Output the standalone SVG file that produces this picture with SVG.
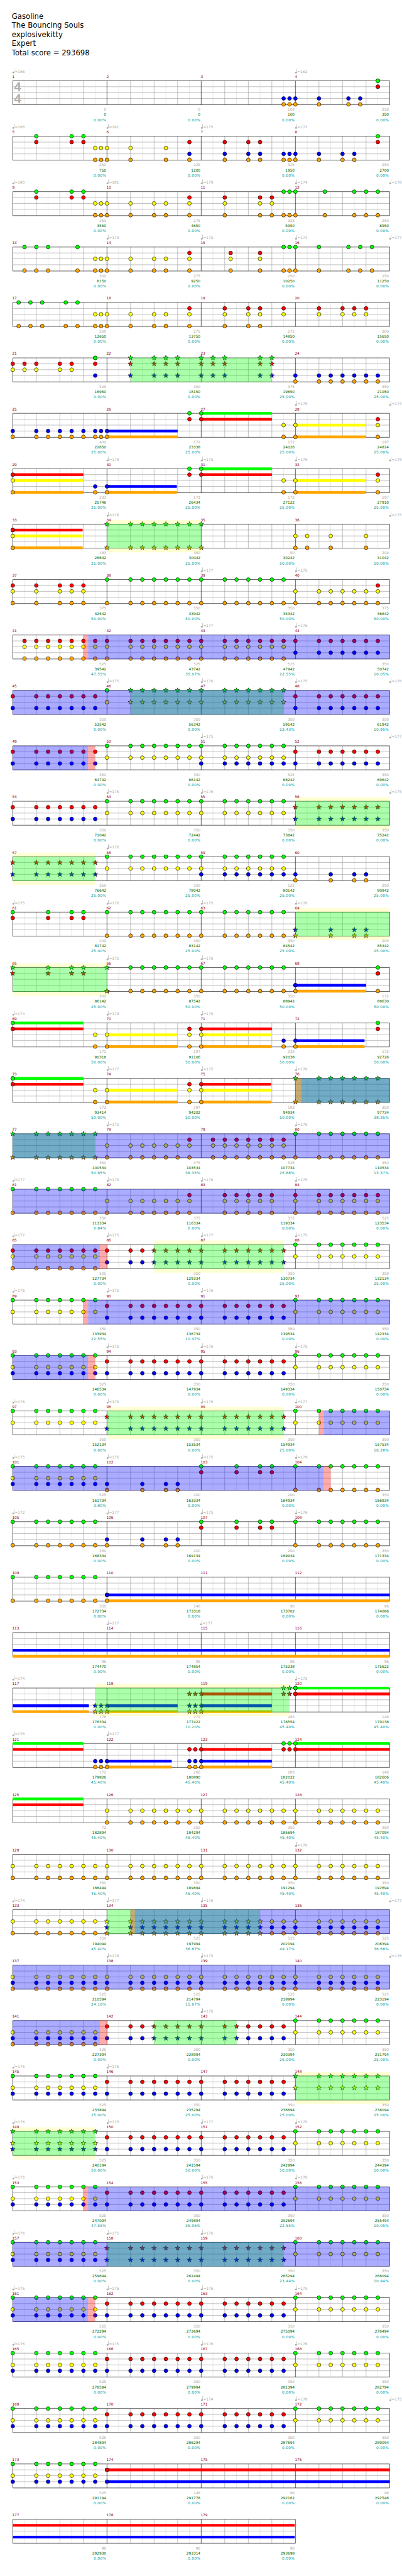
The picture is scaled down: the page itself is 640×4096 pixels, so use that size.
<svg xmlns="http://www.w3.org/2000/svg" width="640" height="4096" viewBox="0 0 640 4096">
<style>
text{font-family:"DejaVu Sans",Verdana,sans-serif;font-size:9.33px}
path{fill:none}
.k{stroke:#000;stroke-width:1}
.G{marker:url(#G)}.R{marker:url(#R)}.Y{marker:url(#Y)}.B{marker:url(#B)}.O{marker:url(#O)}
.Sg{marker:url(#sg)}.Sr{marker:url(#sr)}.Sy{marker:url(#sy)}.Sb{marker:url(#sb)}.So{marker:url(#so)}
.Lg,.Lr,.Ly,.Lb,.Lo{stroke-width:7}
.Lg{stroke:#0f0}.Lr{stroke:#f00}.Ly{stroke:#ff0}.Lb{stroke:#00f}.Lo{stroke:#ffa500}
.Og,.Ob,.Or{stroke-width:62;stroke-opacity:.33}
.Og{stroke:#0f0}.Ob{stroke:#00f}.Or{stroke:#f00}
.Yw{stroke:#ff0;stroke-width:10;stroke-opacity:.17}
.n text{fill:#900}.n{transform:translate(-1.5px,-7.5px)}
.m text{fill:#aaa}.m{transform:translateY(-20.5px)}.m path{marker:url(#q)}
.s,.t,.p{text-anchor:end}
.s text{fill:#aaa}.s{transform:translateY(76.5px)}
.t text{fill:#060}.t{transform:translateY(89.5px)}
.p text{fill:#099;letter-spacing:.5px}.p{transform:translateY(102.5px)}
.h text{font-size:18.67px;fill:#000}
.ts{font-family:"Liberation Sans",Arial,sans-serif;font-weight:bold;font-size:32px;fill:#b0b0b0}
</style>
<defs>
<polygon id="five" points="0,-6.5 1.53,-2.1 6.18,-2 2.47,.8 3.82,5.26 0,2.6 -3.82,5.26 -2.47,.8 -6.18,-2 -1.53,-2.1"/>
<marker id="G" markerUnits="userSpaceOnUse" viewBox="-8 -8 16 16" markerWidth="16" markerHeight="16"><circle class="k" r="4.8" fill="#0f0"/></marker>
<marker id="R" markerUnits="userSpaceOnUse" viewBox="-8 -8 16 16" markerWidth="16" markerHeight="16"><circle class="k" r="4.8" fill="#f00"/></marker>
<marker id="Y" markerUnits="userSpaceOnUse" viewBox="-8 -8 16 16" markerWidth="16" markerHeight="16"><circle class="k" r="4.8" fill="#ff0"/></marker>
<marker id="B" markerUnits="userSpaceOnUse" viewBox="-8 -8 16 16" markerWidth="16" markerHeight="16"><circle class="k" r="4.8" fill="#00f"/></marker>
<marker id="O" markerUnits="userSpaceOnUse" viewBox="-8 -8 16 16" markerWidth="16" markerHeight="16"><circle class="k" r="4.8" fill="#ffa500"/></marker>
<marker id="sg" markerUnits="userSpaceOnUse" viewBox="-8 -8 16 16" markerWidth="16" markerHeight="16"><use href="#five" class="k" fill="#0f0"/></marker>
<marker id="sr" markerUnits="userSpaceOnUse" viewBox="-8 -8 16 16" markerWidth="16" markerHeight="16"><use href="#five" class="k" fill="#f00"/></marker>
<marker id="sy" markerUnits="userSpaceOnUse" viewBox="-8 -8 16 16" markerWidth="16" markerHeight="16"><use href="#five" class="k" fill="#ff0"/></marker>
<marker id="sb" markerUnits="userSpaceOnUse" viewBox="-8 -8 16 16" markerWidth="16" markerHeight="16"><use href="#five" class="k" fill="#00f"/></marker>
<marker id="so" markerUnits="userSpaceOnUse" viewBox="-8 -8 16 16" markerWidth="16" markerHeight="16"><use href="#five" class="k" fill="#ffa500"/></marker>
<marker id="q" markerUnits="userSpaceOnUse" viewBox="-4 -14 12 18" markerWidth="12" markerHeight="18"><ellipse cx="1.5" cy="-.5" rx="2.5" ry="2.2" fill="#aaa"/><path d="M3.6 -1V-10.5" stroke="#aaa"/></marker>
<g id="st">
<path stroke="#ddd" d="M30 0V61M90 0V61M150 0V61M210 0V61M270 0V61M330 0V61M390 0V61M450 0V61M510 0V61M570 0V61M630 0V61M690 0V61M750 0V61M810 0V61M870 0V61M930 0V61"/>
<path stroke="#999" d="M60 0V61M120 0V61M180 0V61M300 0V61M360 0V61M420 0V61M540 0V61M600 0V61M660 0V61M780 0V61M840 0V61M900 0V61M0 15H960M0 30H960M0 45H960"/>
<path stroke="#000" d="M0 0H960V61H0ZM240 0V61M480 0V61M720 0V61"/>
</g>
<g id="st3">
<path stroke="#ddd" d="M30 0V61M90 0V61M150 0V61M210 0V61M270 0V61M330 0V61M390 0V61M450 0V61M510 0V61M570 0V61M630 0V61M690 0V61"/>
<path stroke="#999" d="M60 0V61M120 0V61M180 0V61M300 0V61M360 0V61M420 0V61M540 0V61M600 0V61M660 0V61M0 15H720M0 30H720M0 45H720"/>
<path stroke="#000" d="M0 0H720V61H0ZM240 0V61M480 0V61"/>
</g>
<g id="v">
<path class="G" d="M0 0H60 90 120 150 180 210 720 780 810 840 870 900 930"/>
<path class="R" d="M240 15H300 330 360 390 420 450 480 540 570 600 630 660 690"/>
<path class="Y" d="M0 30H60 90 120 150 180 210 720 780 810 840 870 900 930"/>
<path class="B" d="M0 45H60 90 120 150 180 210 240 300 330 360 390 420 450 480 540 570 600 630 660 690"/>
</g>
</defs>
<rect width="640" height="4096" fill="#fff"/>
<g transform="scale(.625)">
<g id="title" class="h"><text x="30" y="48">Gasoline</text><text x="30" y="71">The Bouncing Souls</text><text x="30" y="94">explosivekitty</text><text x="30" y="117">Expert</text><text x="30" y="140">Total score = 293698</text></g>

<g id="s0" transform="translate(32.5,205.5)"><use href="#st"/><text class="ts" x="3.5" y="26.5">4</text><text class="ts" x="3.5" y="57">4</text>
<path class="G" d="M930 0h0"/><path class="R" d="M930 15h0"/><path class="B" d="M690 45H705 720 780 855 885"/><path class="O" d="M690 60H705 720 780 855 885"/>
<g class="m"><path d="M0 0H720"/><text x="5">=166</text><text x="725">=162</text></g>
<g class="n"><text>1</text><text x="240">2</text><text x="480">3</text><text x="720">4</text></g>
<g class="s"><text x="238">0</text><text x="478">0</text><text x="718">100</text><text x="958">250</text></g>
<g class="t"><text x="238">0</text><text x="478">0</text><text x="718">100</text><text x="958">350</text></g>
<g class="p"><text x="238">0.00%</text><text x="478">0.00%</text><text x="718">0.00%</text><text x="958">0.00%</text></g></g>

<g id="s1" transform="translate(32.5,346.5)"><use href="#st"/>
<path class="G" d="M60 0H150 180 930"/><path class="R" d="M60 15H150 180 450 540 600 630 930"/><path class="Y" d="M210 30H225 240 300 390"/><path class="B" d="M450 45H540 600 630 690 705 720 780 840 870"/><path class="O" d="M210 60H225 240 300 390 450 540 600 630 690 705 720 780 840 870"/>
<g class="m"><path d="M0 0H240 480 720"/><text x="5">=166</text><text x="245">=181</text><text x="485">=175</text><text x="725">=172</text></g>
<g class="n"><text>5</text><text x="240">6</text><text x="480">7</text><text x="720">8</text></g>
<g class="s"><text x="238">250</text><text x="478">225</text><text x="718">325</text><text x="958">250</text></g>
<g class="t"><text x="238">750</text><text x="478">1200</text><text x="718">1950</text><text x="958">2700</text></g>
<g class="p"><text x="238">0.00%</text><text x="478">0.00%</text><text x="718">0.00%</text><text x="958">0.00%</text></g></g>

<g id="s2" transform="translate(32.5,487.5)"><use href="#st"/>
<path class="G" d="M60 0H150 180 690 705 720 795 870 900 930"/><path class="R" d="M60 15H150 180 450 540 630 660"/><path class="Y" d="M210 30H225 240 300 360 390 450 540 630 660"/><path class="O" d="M210 60H225 240 300 360 390 450 540 630 660 690 705 720 795 870 900 930"/>
<g class="m"><path d="M0 0H240 480 720 960"/><text x="5">=180</text><text x="245">=181</text><text x="485">=179</text><text x="725">=174</text><text x="965">=178</text></g>
<g class="n"><text>9</text><text x="240">10</text><text x="480">11</text><text x="720">12</text></g>
<g class="s"><text x="238">250</text><text x="478">275</text><text x="718">325</text><text x="958">250</text></g>
<g class="t"><text x="238">3550</text><text x="478">4650</text><text x="718">5950</text><text x="958">6950</text></g>
<g class="p"><text x="238">0.00%</text><text x="478">0.00%</text><text x="718">0.00%</text><text x="958">0.00%</text></g></g>

<g id="s3" transform="translate(32.5,628.5)"><use href="#st"/>
<path class="G" d="M30 0H60 90 165 690 705 720 780 855 885 915"/><path class="R" d="M450 15H555 630"/><path class="Y" d="M210 30H225 240 300 360 390 450 555 630"/><path class="O" d="M30 60H60 90 165 210 225 240 300 360 390 450 555 630 690 705 720 780 855 885 915"/>
<g class="m"><path d="M240 0H480 720 960"/><text x="245">=173</text><text x="485">=170</text><text x="725">=174</text><text x="965">=177</text></g>
<g class="n"><text>13</text><text x="240">14</text><text x="480">15</text><text x="720">16</text></g>
<g class="s"><text x="238">300</text><text x="478">275</text><text x="718">250</text><text x="958">250</text></g>
<g class="t"><text x="238">8150</text><text x="478">9250</text><text x="718">10250</text><text x="958">11250</text></g>
<g class="p"><text x="238">0.00%</text><text x="478">0.00%</text><text x="718">0.00%</text><text x="958">0.00%</text></g></g>

<g id="s4" transform="translate(32.5,769.5)"><use href="#st"/>
<path class="G" d="M15 0H45 75 135 165"/><path class="R" d="M450 15H540 600 630 690 780 840 870 900"/><path class="Y" d="M210 30H225 240 300 360 390 450 540 600 630 690 780 840 870 900"/><path class="O" d="M15 60H45 75 135 165 210 225 240 300 360 390 450 540 600 630"/>
<g class="n"><text>17</text><text x="240">18</text><text x="480">19</text><text x="720">20</text></g>
<g class="s"><text x="238">350</text><text x="478">275</text><text x="718">275</text><text x="958">200</text></g>
<g class="t"><text x="238">12650</text><text x="478">13750</text><text x="718">14850</text><text x="958">15650</text></g>
<g class="p"><text x="238">0.00%</text><text x="478">0.00%</text><text x="718">0.00%</text><text x="958">0.00%</text></g></g>

<g id="s5" transform="translate(32.5,910.5)"><use href="#st"/>
<path class="G" d="M210 0h0"/><path class="Sg" d="M300 0H360 390 420 480 510 540 630 660"/><path class="R" d="M0 15H30 60 120 150 210"/><path class="Sr" d="M300 15H360 390 420 480 510 540 630 660"/><path class="Y" d="M0 30H30 60 120 150"/><path class="B" d="M210 45H720 780 810 840 870 900 930"/><path class="Sb" d="M300 45H360 390 420 480 510 540 630 660"/><path class="O" d="M720 60H780 810 840 870 900 930"/>
<g class="n"><text>21</text><text x="240">22</text><text x="480">23</text><text x="720">24</text></g>
<g class="s"><text x="238">325</text><text x="478">300</text><text x="718">375</text><text x="958">350</text></g>
<g class="t"><text x="238">16950</text><text x="478">18150</text><text x="718">19650</text><text x="958">21050</text></g>
<g class="p"><text x="238">0.00%</text><text x="478">0.00%</text><text x="718">25.00%</text><text x="958">25.00%</text></g>
<path class="Og" d="M300 30.5H660"/></g>

<g id="s6" transform="translate(32.5,1051.5)"><use href="#st"/>
<path class="Lg" d="M480 0H660"/><path class="Lr" d="M480 15H660"/><path class="Ly" d="M720 30H900"/><path class="Lb" d="M240 45H420"/><path class="Lo" d="M240 60H420M720 60H900"/>
<path class="G" d="M450 0H480"/><path class="R" d="M450 15H480 930"/><path class="Y" d="M690 30H720 930"/><path class="B" d="M0 45H60 90 120 150 180 210 225 240"/><path class="O" d="M0 60H60 90 120 150 180 210 225 240 690 720 930"/>
<g class="m"><path d="M720 0H960"/><text x="725">=175</text><text x="965">=174</text></g>
<g class="n"><text>25</text><text x="240">26</text><text x="480">27</text><text x="720">28</text></g>
<g class="s"><text x="238">400</text><text x="478">172</text><text x="718">172</text><text x="958">197</text></g>
<g class="t"><text x="238">22650</text><text x="478">23338</text><text x="718">24026</text><text x="958">24814</text></g>
<g class="p"><text x="238">25.00%</text><text x="478">25.00%</text><text x="718">25.00%</text><text x="958">25.00%</text></g></g>

<g id="s7" transform="translate(32.5,1192.5)"><use href="#st"/>
<path class="Lg" d="M480 0H660"/><path class="Lr" d="M0 15H180M480 15H660"/><path class="Ly" d="M0 30H180M720 30H900"/><path class="Lb" d="M240 45H418"/><path class="Lo" d="M0 60H180M240 60H418M720 60H900"/>
<path class="G" d="M450 0H480"/><path class="R" d="M0 15H450 480 930"/><path class="Y" d="M0 30H690 720 930"/><path class="B" d="M210 45H240"/><path class="O" d="M0 60H210 240 690 720 930"/>
<g class="m"><path d="M240 0H480 720 960"/><text x="245">=178</text><text x="485">=175</text><text x="725">=175</text><text x="965">=178</text></g>
<g class="n"><text>29</text><text x="240">30</text><text x="480">31</text><text x="720">32</text></g>
<g class="s"><text x="238">233</text><text x="478">172</text><text x="718">172</text><text x="958">197</text></g>
<g class="t"><text x="238">25746</text><text x="478">26434</text><text x="718">27122</text><text x="958">27910</text></g>
<g class="p"><text x="238">25.00%</text><text x="478">25.00%</text><text x="718">25.00%</text><text x="958">25.00%</text></g></g>

<g id="s8" transform="translate(32.5,1333.5)"><use href="#st"/>
<path class="Lr" d="M0 15H178"/><path class="Ly" d="M0 30H178"/><path class="Lo" d="M0 60H178"/>
<path class="Sg" d="M240 0H300 330 360 390 420 450 480"/><path class="R" d="M0 15h0"/><path class="Y" d="M0 30H720 750 810 900"/><path class="O" d="M0 60H720 750 810 900"/><path class="So" d="M240 60H300 330 360 390 420 450 480"/>
<g class="m"><path d="M240 0H960"/><text x="245">=176</text><text x="965">=175</text></g>
<g class="n"><text>33</text><text x="240">34</text><text x="480">35</text><text x="720">36</text></g>
<g class="s"><text x="238">183</text><text x="478">350</text><text x="718">50</text><text x="958">200</text></g>
<g class="t"><text x="238">28642</text><text x="478">30042</text><text x="718">30242</text><text x="958">31042</text></g>
<g class="p"><text x="238">25.00%</text><text x="478">25.00%</text><text x="718">50.00%</text><text x="958">50.00%</text></g>
<path class="Og" d="M240 30.5H480"/><path class="Yw" d="M240 -5.5H480M240 66.5H480"/></g>

<g id="s9" transform="translate(32.5,1474.5)"><use href="#st"/>
<path class="G" d="M240 0H300 330 360 390 420 450 480 540 570 600 630 660 690"/><path class="R" d="M0 15H60 120 150 180 930"/><path class="Y" d="M0 30H60 120 150 180 720 780 810 840 870 900 930"/><path class="O" d="M0 60H60 120 150 180 240 300 330 360 390 420 450 480 540 570 600 630 660 690 720 780 810 840 870 900 930"/>
<g class="m"><path d="M480 0H720"/><text x="485">=177</text><text x="725">=175</text></g>
<g class="n"><text>37</text><text x="240">38</text><text x="480">39</text><text x="720">40</text></g>
<g class="s"><text x="238">375</text><text x="478">350</text><text x="718">350</text><text x="958">375</text></g>
<g class="t"><text x="238">32542</text><text x="478">33942</text><text x="718">35342</text><text x="958">36842</text></g>
<g class="p"><text x="238">50.00%</text><text x="478">50.00%</text><text x="718">50.00%</text><text x="958">50.00%</text></g></g>

<g id="s10" transform="translate(32.5,1615.5)"><use href="#st"/>
<path class="R" d="M30 15H60 90 120 150 180 210 240 300 330 360 390 420 450 480 540 570 600 630 660 690 720 780 810 840 870 900 930"/><path class="Y" d="M30 30H60 90 120 150 180 210 240 300 330 360 390 420 450 480 540 570 600 630 660 690"/><path class="B" d="M720 45H780 810 840 870 900 930"/><path class="O" d="M30 60H60 90 120 150 180 210 240 300 330 360 390 420 450 480 540 570 600 630 660 690"/>
<g class="m"><path d="M480 0H720"/><text x="485">=177</text><text x="725">=176</text></g>
<g class="n"><text>41</text><text x="240">42</text><text x="480">43</text><text x="720">44</text></g>
<g class="s"><text x="238">525</text><text x="478">525</text><text x="718">525</text><text x="958">350</text></g>
<g class="t"><text x="238">39542</text><text x="478">43742</text><text x="718">47942</text><text x="958">50742</text></g>
<g class="p"><text x="238">47.55%</text><text x="478">35.07%</text><text x="718">22.55%</text><text x="958">10.05%</text></g>
<path class="Or" d="M180 30.5H192"/><path class="Ob" d="M192 30.5H960"/></g>

<g id="s11" transform="translate(32.5,1756.5)"><use href="#st"/>
<path class="G" d="M240 0h0"/><path class="Sg" d="M300 0H330 360 390 420 450 480 540 570 600 630 660 690"/><path class="R" d="M0 15H60 90 120 150 180 210 720 780 810 840 870 900 930"/><path class="Y" d="M240 30h0"/><path class="Sy" d="M300 30H330 360 390 420 450 480 540 570 600 630 660 690"/><path class="B" d="M0 45H60 90 120 150 180 210 720 780 810 840 870 900 930"/>
<g class="m"><path d="M240 0H480 720 960"/><text x="245">=175</text><text x="485">=176</text><text x="725">=175</text><text x="965">=176</text></g>
<g class="n"><text>45</text><text x="240">46</text><text x="480">47</text><text x="720">48</text></g>
<g class="s"><text x="238">350</text><text x="478">350</text><text x="718">350</text><text x="958">350</text></g>
<g class="t"><text x="238">53542</text><text x="478">56342</text><text x="718">59142</text><text x="958">61942</text></g>
<g class="p"><text x="238">0.00%</text><text x="478">0.00%</text><text x="718">23.43%</text><text x="958">10.95%</text></g>
<path class="Og" d="M300 30.5H690"/><path class="Ob" d="M0 30.5H960"/></g>

<g id="s12" transform="translate(32.5,1897.5)"><use href="#st"/>
<path class="G" d="M240 0H300 330 360 390 420 450 480 540 570 600 630 660 690"/><path class="R" d="M0 15H60 90 120 150 180 210 720 780 810 840 870 900 930"/><path class="Y" d="M240 30H300 330 360 390 420 450 480 540 570 600 630 660 690"/><path class="B" d="M0 45H60 90 120 150 180 210 480 540 570 600 630 660 690 720 780 810 840 870 900 930"/>
<g class="m"><path d="M480 0H960"/><text x="485">=175</text><text x="965">=177</text></g>
<g class="n"><text>49</text><text x="240">50</text><text x="480">51</text><text x="720">52</text></g>
<g class="s"><text x="238">350</text><text x="478">350</text><text x="718">525</text><text x="958">350</text></g>
<g class="t"><text x="238">64742</text><text x="478">66142</text><text x="718">68242</text><text x="958">69642</text></g>
<g class="p"><text x="238">0.00%</text><text x="478">0.00%</text><text x="718">0.00%</text><text x="958">0.00%</text></g>
<path class="Ob" d="M0 30.5H192"/><path class="Or" d="M192 30.5H210"/></g>

<g id="s13" transform="translate(32.5,2038.5)"><use href="#st"/>
<path class="G" d="M240 0H300 330 360 390 420 450 480 540 570 600 630 660 690"/><path class="R" d="M0 15H60 90 120 150 180 210"/><path class="Sr" d="M720 15H780 810 840 870 900 930"/><path class="Y" d="M240 30H300 330 360 390 420 450 480 540 570 600 630 660 690"/><path class="B" d="M0 45H60 90 120 150 180 210"/><path class="Sb" d="M720 45H780 810 840 870 900 930"/>
<g class="m"><path d="M240 0H480 960"/><text x="245">=175</text><text x="485">=176</text><text x="965">=175</text></g>
<g class="n"><text>53</text><text x="240">54</text><text x="480">55</text><text x="720">56</text></g>
<g class="s"><text x="238">350</text><text x="478">350</text><text x="718">350</text><text x="958">350</text></g>
<g class="t"><text x="238">71042</text><text x="478">72442</text><text x="718">73842</text><text x="958">75242</text></g>
<g class="p"><text x="238">0.00%</text><text x="478">0.00%</text><text x="718">0.00%</text><text x="958">0.00%</text></g>
<path class="Og" d="M720 30.5H960"/><path class="Yw" d="M720 -5.5H960M720 66.5H960"/></g>

<g id="s14" transform="translate(32.5,2179.5)"><use href="#st"/>
<path class="G" d="M240 0H300 330 360 390 420 450 480 540 570 600 630 660 690"/><path class="Sr" d="M0 15H60 90 120 150 180 210"/><path class="Y" d="M240 30H300 330 360 390 420 450 480 540 570 600 630 660 690"/><path class="Sb" d="M0 45H60 90 120 150 180 210"/><path class="B" d="M480 45H540 570 600 630 660 690 720 810 870 900"/><path class="O" d="M720 60H810 870 900"/>
<g class="m"><path d="M240 0h0"/><text x="245">=176</text></g>
<g class="n"><text>57</text><text x="240">58</text><text x="480">59</text><text x="720">60</text></g>
<g class="s"><text x="238">350</text><text x="478">350</text><text x="718">525</text><text x="958">200</text></g>
<g class="t"><text x="238">76642</text><text x="478">78042</text><text x="718">80142</text><text x="958">80942</text></g>
<g class="p"><text x="238">25.00%</text><text x="478">25.00%</text><text x="718">25.00%</text><text x="958">25.00%</text></g>
<path class="Og" d="M0 30.5H210"/><path class="Yw" d="M0 -5.5H210M0 66.5H210"/></g>

<g id="s15" transform="translate(32.5,2320.5)"><use href="#st"/>
<path class="G" d="M0 0H90 150 180 240 300 330 360 390 420 450 480 540 570 600 630 660 690"/><path class="R" d="M0 15H90 150 180"/><path class="Sb" d="M720 45H810 870 900"/><path class="O" d="M240 60H300 330 360 390 420 450 480 540 570 600 630 660 690"/><path class="So" d="M720 60H810 870 900"/>
<g class="m"><path d="M0 0H240 480 720"/><text x="5">=175</text><text x="245">=176</text><text x="485">=175</text><text x="725">=176</text></g>
<g class="n"><text>61</text><text x="240">62</text><text x="480">63</text><text x="720">64</text></g>
<g class="s"><text x="238">200</text><text x="478">350</text><text x="718">350</text><text x="958">200</text></g>
<g class="t"><text x="238">81742</text><text x="478">83142</text><text x="718">84542</text><text x="958">85342</text></g>
<g class="p"><text x="238">25.00%</text><text x="478">25.00%</text><text x="718">25.00%</text><text x="958">25.00%</text></g>
<path class="Og" d="M720 30.5H960"/><path class="Yw" d="M720 -5.5H960M720 66.5H960"/></g>

<g id="s16" transform="translate(32.5,2461.5)"><use href="#st"/>
<path class="Lb" d="M720 45H900"/><path class="Lo" d="M720 60H900"/>
<path class="Sg" d="M0 0H90 150 180 240"/><path class="G" d="M300 0H330 360 390 420 450 480 540 570 600 630 660 690 930"/><path class="Sr" d="M0 15H90 150 180"/><path class="R" d="M930 15h0"/><path class="B" d="M720 45h0"/><path class="So" d="M240 60h0"/><path class="O" d="M300 60H330 360 390 420 450 480 540 570 600 630 660 690 720 930"/>
<g class="m"><path d="M240 0H480"/><text x="245">=175</text><text x="485">=176</text></g>
<g class="n"><text>65</text><text x="240">66</text><text x="480">67</text><text x="720">68</text></g>
<g class="s"><text x="238">200</text><text x="478">350</text><text x="718">350</text><text x="958">172</text></g>
<g class="t"><text x="238">86142</text><text x="478">87542</text><text x="718">88942</text><text x="958">89630</text></g>
<g class="p"><text x="238">25.00%</text><text x="478">50.00%</text><text x="718">50.00%</text><text x="958">50.00%</text></g>
<path class="Og" d="M0 30.5H240"/><path class="Yw" d="M0 -5.5H240M0 66.5H240"/></g>

<g id="s17" transform="translate(32.5,2602.5)"><use href="#st"/>
<path class="Lg" d="M0 0H180"/><path class="Lr" d="M0 15H180M480 15H660"/><path class="Ly" d="M240 30H420M480 30H660"/><path class="Lb" d="M720 45H896"/><path class="Lo" d="M240 60H420M480 60H660M720 60H896"/>
<path class="G" d="M0 0H930"/><path class="R" d="M0 15H450 480 930"/><path class="Y" d="M210 30H240 450 480"/><path class="B" d="M690 45H720"/><path class="O" d="M210 60H240 450 480 690 720"/>
<g class="m"><path d="M0 0H240 480"/><text x="5">=174</text><text x="245">=179</text><text x="485">=175</text></g>
<g class="n"><text>69</text><text x="240">70</text><text x="480">71</text><text x="720">72</text></g>
<g class="s"><text x="238">172</text><text x="478">197</text><text x="718">233</text><text x="958">172</text></g>
<g class="t"><text x="238">90318</text><text x="478">91106</text><text x="718">92038</text><text x="958">92726</text></g>
<g class="p"><text x="238">50.00%</text><text x="478">50.00%</text><text x="718">50.00%</text><text x="958">50.00%</text></g></g>

<g id="s18" transform="translate(32.5,2743.5)"><use href="#st"/>
<path class="Lg" d="M0 0H180"/><path class="Lr" d="M0 15H180M480 15H658"/><path class="Ly" d="M240 30H420M480 30H658"/><path class="Lo" d="M240 60H420M480 60H658"/>
<path class="G" d="M0 0h0"/><path class="Sg" d="M720 0H780 810 840 870 900 930"/><path class="R" d="M0 15H450 480"/><path class="Y" d="M210 30H240 450 480"/><path class="O" d="M210 60H240 450 480"/><path class="So" d="M720 60H780 810 840 870 900 930"/>
<g class="m"><path d="M240 0H480 720"/><text x="245">=177</text><text x="485">=175</text><text x="725">=176</text></g>
<g class="n"><text>73</text><text x="240">74</text><text x="480">75</text><text x="720">76</text></g>
<g class="s"><text x="238">172</text><text x="478">197</text><text x="718">183</text><text x="958">350</text></g>
<g class="t"><text x="238">93414</text><text x="478">94202</text><text x="718">94934</text><text x="958">97734</text></g>
<g class="p"><text x="238">50.00%</text><text x="478">50.00%</text><text x="718">50.00%</text><text x="958">38.35%</text></g>
<path class="Og" d="M720 30.5H960"/><path class="Or" d="M720 30.5H735"/><path class="Ob" d="M735 30.5H960"/></g>

<g id="s19" transform="translate(32.5,2884.5)"><use href="#st"/>
<path class="Sg" d="M0 0H60 90 120 150 180 210"/><path class="G" d="M720 0H780 810 840 870 900 930"/><path class="R" d="M450 15H510 540 570 600 630 660 690"/><path class="Y" d="M240 30H300 330 360 390 420 450 510 540 570 600 630 660 690"/><path class="So" d="M0 60H60 90 120 150 180 210"/><path class="O" d="M240 60H300 330 360 390 420 450 510 540 570 600 630 660 690 720 780 810 840 870 900 930"/>
<g class="m"><path d="M240 0H720"/><text x="245">=175</text><text x="725">=176</text></g>
<g class="n"><text>77</text><text x="240">78</text><text x="480">79</text><text x="720">80</text></g>
<g class="s"><text x="238">350</text><text x="478">375</text><text x="718">525</text><text x="958">350</text></g>
<g class="t"><text x="238">100534</text><text x="478">103534</text><text x="718">107734</text><text x="958">110534</text></g>
<g class="p"><text x="238">50.85%</text><text x="478">38.35%</text><text x="718">25.86%</text><text x="958">13.37%</text></g>
<path class="Og" d="M0 30.5H210"/><path class="Ob" d="M0 30.5H960"/></g>

<g id="s20" transform="translate(32.5,3025.5)"><use href="#st"/>
<path class="G" d="M0 0H60 90 120 150 180 210"/><path class="R" d="M450 15H540 570 600 630 660 720 780 810 840 870 900 930"/><path class="Y" d="M240 30H300 330 360 390 420 450 540 570 600 630 660 720 780 810 840 870 900 930"/><path class="O" d="M0 60H60 90 120 150 180 210 240 300 330 360 390 420 450 540 570 600 630 660 720 780 810 840 870 900 930"/>
<g class="m"><path d="M0 0H240 480 720"/><text x="5">=177</text><text x="245">=175</text><text x="485">=176</text><text x="725">=175</text></g>
<g class="n"><text>81</text><text x="240">82</text><text x="480">83</text><text x="720">84</text></g>
<g class="s"><text x="238">350</text><text x="478">375</text><text x="718">375</text><text x="958">525</text></g>
<g class="t"><text x="238">113334</text><text x="478">116334</text><text x="718">119334</text><text x="958">123534</text></g>
<g class="p"><text x="238">0.84%</text><text x="478">0.00%</text><text x="718">0.00%</text><text x="958">0.00%</text></g>
<path class="Ob" d="M0 30.5H960"/></g>

<g id="s21" transform="translate(32.5,3166.5)"><use href="#st"/>
<path class="G" d="M720 0H780 810 840 870 900 930"/><path class="R" d="M0 15H60 90 120 150 180 210 240 300 330"/><path class="Sr" d="M360 15H390 420 450 480 540 570 600 630 660 690"/><path class="Y" d="M0 30H60 90 120 150 180 210 720 780 810 840 870 900 930"/><path class="B" d="M240 45H300 330"/><path class="Sb" d="M360 45H390 420 450 480 540 570 600 630 660 690"/><path class="O" d="M0 60H60 90 120 150 180 210"/>
<g class="m"><path d="M0 0H240 480 720"/><text x="5">=177</text><text x="245">=175</text><text x="485">=177</text><text x="725">=175</text></g>
<g class="n"><text>85</text><text x="240">86</text><text x="480">87</text><text x="720">88</text></g>
<g class="s"><text x="238">525</text><text x="478">350</text><text x="718">350</text><text x="958">350</text></g>
<g class="t"><text x="238">127734</text><text x="478">129334</text><text x="718">130734</text><text x="958">132134</text></g>
<g class="p"><text x="238">0.00%</text><text x="478">0.00%</text><text x="718">25.00%</text><text x="958">25.00%</text></g>
<path class="Ob" d="M0 30.5H222"/><path class="Or" d="M222 30.5H240"/><path class="Og" d="M360 30.5H690"/><path class="Yw" d="M360 -5.5H690M360 66.5H690"/></g>

<g id="s22" transform="translate(32.5,3307.5)"><use href="#st"/>
<path class="G" d="M0 0H60 90 120 150 180 210 720 780 810 840 870 900 930"/><path class="R" d="M240 15H300 330 360 390 420 450 480 540 570 600 630 660 690"/><path class="Y" d="M0 30H60 90 120 150 180 210 720 780 810 840 870 900 930"/><path class="B" d="M240 45H300 330 360 390 420 450 480 540 570 600 630 660 690"/>
<g class="m"><path d="M0 0H240 480"/><text x="5">=176</text><text x="245">=175</text><text x="485">=176</text></g>
<g class="n"><text>89</text><text x="240">90</text><text x="480">91</text><text x="720">92</text></g>
<g class="s"><text x="238">350</text><text x="478">350</text><text x="718">350</text><text x="958">350</text></g>
<g class="t"><text x="238">133934</text><text x="478">136734</text><text x="718">139534</text><text x="958">142334</text></g>
<g class="p"><text x="238">22.55%</text><text x="478">10.07%</text><text x="718">0.00%</text><text x="958">0.00%</text></g>
<path class="Or" d="M180 30.5H192"/><path class="Ob" d="M192 30.5H960"/></g>

<g id="s23" transform="translate(32.5,3448.5)"><use href="#st"/><use href="#v"/>
<g class="m"><path d="M240 0H480 720"/><text x="245">=175</text><text x="485">=176</text><text x="725">=175</text></g>
<g class="n"><text>93</text><text x="240">94</text><text x="480">95</text><text x="720">96</text></g>
<g class="s"><text x="238">525</text><text x="478">350</text><text x="718">350</text><text x="958">350</text></g>
<g class="t"><text x="238">146534</text><text x="478">147934</text><text x="718">149334</text><text x="958">150734</text></g>
<g class="p"><text x="238">0.00%</text><text x="478">0.00%</text><text x="718">0.00%</text><text x="958">0.00%</text></g>
<path class="Ob" d="M0 30.5H192"/><path class="Or" d="M192 30.5H210"/></g>

<g id="s24" transform="translate(32.5,3589.5)"><use href="#st"/>
<path class="G" d="M0 0H60 90 120 150 180 210 720 780 810 840 870 900 930"/><path class="Sr" d="M240 15H300 330 360 390 420 450 480 540 570 600 630 660 690"/><path class="Y" d="M0 30H60 90 120 150 180 210 720 780 810 840 870 900 930"/><path class="Sb" d="M240 45H300 330 360 390 420 450 480 540 570 600 630 660 690"/>
<g class="m"><path d="M0 0H240 480 720"/><text x="5">=176</text><text x="245">=175</text><text x="485">=176</text><text x="725">=177</text></g>
<g class="n"><text>97</text><text x="240">98</text><text x="480">99</text><text x="720">100</text></g>
<g class="s"><text x="238">350</text><text x="478">350</text><text x="718">350</text><text x="958">350</text></g>
<g class="t"><text x="238">152134</text><text x="478">153534</text><text x="718">154934</text><text x="958">157534</text></g>
<g class="p"><text x="238">0.00%</text><text x="478">0.00%</text><text x="718">25.00%</text><text x="958">16.28%</text></g>
<path class="Og" d="M240 30.5H690"/><path class="Yw" d="M240 -5.5H690M240 66.5H690"/><path class="Or" d="M780 30.5H792"/><path class="Ob" d="M792 30.5H960"/></g>

<g id="s25" transform="translate(32.5,3730.5)"><use href="#st"/>
<path class="G" d="M0 0H60 90 120 150 180 210 480 570 630 660 720 780 810 840 870 900 930"/><path class="R" d="M480 15H570 630 660"/><path class="Y" d="M0 30H60 90 120 150 180 210"/><path class="B" d="M0 45H60 90 120 150 180 210 240 330 390 420"/><path class="O" d="M240 60H330 390 420 720 780 810 840 870 900 930"/>
<g class="m"><path d="M0 0H240 480 720"/><text x="5">=175</text><text x="245">=176</text><text x="485">=175</text><text x="725">=179</text></g>
<g class="n"><text>101</text><text x="240">102</text><text x="480">103</text><text x="720">104</text></g>
<g class="s"><text x="238">525</text><text x="478">200</text><text x="718">200</text><text x="958">350</text></g>
<g class="t"><text x="238">161734</text><text x="478">163334</text><text x="718">164934</text><text x="958">166934</text></g>
<g class="p"><text x="238">3.80%</text><text x="478">0.00%</text><text x="718">0.00%</text><text x="958">0.00%</text></g>
<path class="Ob" d="M0 30.5H792"/><path class="Or" d="M792 30.5H810"/></g>

<g id="s26" transform="translate(32.5,3871.5)"><use href="#st"/>
<path class="G" d="M0 0H60 90 120 150 180 210 480 570 630 660 720 780 810 840 870 900 930"/><path class="R" d="M480 15H570 630 660"/><path class="B" d="M240 45H330 390 420"/><path class="O" d="M0 60H60 90 120 150 180 210 240 330 390 420 720 780 810 840 870 900 930"/>
<g class="m"><path d="M0 0H240 480 720"/><text x="5">=172</text><text x="245">=177</text><text x="485">=175</text><text x="725">=176</text></g>
<g class="n"><text>105</text><text x="240">106</text><text x="480">107</text><text x="720">108</text></g>
<g class="s"><text x="238">350</text><text x="478">200</text><text x="718">200</text><text x="958">350</text></g>
<g class="t"><text x="238">168334</text><text x="478">169134</text><text x="718">169934</text><text x="958">171334</text></g>
<g class="p"><text x="238">0.00%</text><text x="478">0.00%</text><text x="718">0.00%</text><text x="958">0.00%</text></g></g>

<g id="s27" transform="translate(32.5,4012.5)"><use href="#st"/>
<path class="Lb" d="M240 45H960"/><path class="Lo" d="M240 60H960"/>
<path class="G" d="M0 0H60 90 120 150 180 210"/><path class="B" d="M240 45h0"/><path class="O" d="M0 60H60 90 120 150 180 210 240"/>
<g class="n"><text>109</text><text x="240">110</text><text x="480">111</text><text x="720">112</text></g>
<g class="s"><text x="238">350</text><text x="478">146</text><text x="718">96</text><text x="958">96</text></g>
<g class="t"><text x="238">172734</text><text x="478">173318</text><text x="718">173702</text><text x="958">174086</text></g>
<g class="p"><text x="238">0.00%</text><text x="478">0.00%</text><text x="718">0.00%</text><text x="958">0.00%</text></g></g>

<g id="s28" transform="translate(32.5,4153.5)"><use href="#st"/>
<path class="Lb" d="M0 45H960"/><path class="Lo" d="M0 60H960"/>
<g class="m"><path d="M240 0H478"/><text x="245">=177</text><text x="483">=177</text></g>
<g class="n"><text>113</text><text x="240">114</text><text x="480">115</text><text x="720">116</text></g>
<g class="s"><text x="238">96</text><text x="478">96</text><text x="718">96</text><text x="958">96</text></g>
<g class="t"><text x="238">174470</text><text x="478">174854</text><text x="718">175238</text><text x="958">175622</text></g>
<g class="p"><text x="238">0.00%</text><text x="478">0.00%</text><text x="718">0.00%</text><text x="958">0.00%</text></g></g>

<g id="s29" transform="translate(32.5,4294.5)"><use href="#st"/>
<path class="Lg" d="M720 0H960"/><path class="Lr" d="M480 15H660M720 15H960"/><path class="Lb" d="M0 45H194M240 45H420M480 45H660"/><path class="Lo" d="M0 60H194M240 60H420M480 60H660"/>
<path class="Sg" d="M690 0H705"/><path class="G" d="M720 0h0"/><path class="Sr" d="M450 15H465 480 690 705"/><path class="R" d="M720 15h0"/><path class="Sb" d="M210 45H225 240 450 465 480"/><path class="So" d="M210 60H225 240 450 465 480"/>
<g class="m"><path d="M0 0H720"/><text x="5">=174</text><text x="725">=172</text></g>
<g class="n"><text>117</text><text x="240">118</text><text x="480">119</text><text x="720">120</text></g>
<g class="s"><text x="238">178</text><text x="478">272</text><text x="718">283</text><text x="958">146</text></g>
<g class="t"><text x="238">176334</text><text x="478">177422</text><text x="718">178554</text><text x="958">179138</text></g>
<g class="p"><text x="238">0.00%</text><text x="478">10.20%</text><text x="718">45.40%</text><text x="958">45.40%</text></g>
<path class="Og" d="M210 30.5H705"/><path class="Yw" d="M210 -5.5H705M210 66.5H705"/></g>

<g id="s30" transform="translate(32.5,4435.5)"><use href="#st"/>
<path class="Lg" d="M0 0H180M720 0H960"/><path class="Lr" d="M0 15H180M480 15H660M720 15H960"/><path class="Lb" d="M240 45H405M480 45H660"/><path class="Lo" d="M240 60H405M480 60H660"/>
<path class="G" d="M690 0H705 720"/><path class="R" d="M450 15H465 480 690 705 720"/><path class="B" d="M210 45H225 240 450 465 480"/><path class="O" d="M210 60H225 240 450 465 480"/>
<g class="m"><path d="M0 0H240"/><text x="5">=176</text><text x="245">=177</text></g>
<g class="n"><text>121</text><text x="240">122</text><text x="480">123</text><text x="720">124</text></g>
<g class="s"><text x="238">172</text><text x="478">266</text><text x="718">283</text><text x="958">146</text></g>
<g class="t"><text x="238">179826</text><text x="478">180890</text><text x="718">182022</text><text x="958">182606</text></g>
<g class="p"><text x="238">45.40%</text><text x="478">45.40%</text><text x="718">45.40%</text><text x="958">45.40%</text></g></g>

<g id="s31" transform="translate(32.5,4576.5)"><use href="#st"/>
<path class="Lg" d="M0 0H180"/><path class="Lr" d="M0 15H180"/>
<path class="Y" d="M240 30H300 330 360 390 420 450 480 540 570 600 630 660 690 720 780 810 840 870 900 930"/><path class="O" d="M240 60H300 330 360 390 420 450 480 540 570 600 630 660 690 720 780 810 840 870 900 930"/>
<g class="n"><text>125</text><text x="240">126</text><text x="480">127</text><text x="720">128</text></g>
<g class="s"><text x="238">72</text><text x="478">350</text><text x="718">350</text><text x="958">350</text></g>
<g class="t"><text x="238">182894</text><text x="478">184294</text><text x="718">185694</text><text x="958">187094</text></g>
<g class="p"><text x="238">45.40%</text><text x="478">45.40%</text><text x="718">45.40%</text><text x="958">45.40%</text></g></g>

<g id="s32" transform="translate(32.5,4717.5)"><use href="#st"/>
<path class="Y" d="M0 30H60 90 120 150 180 210 240 300 330 360 390 420 450 480 540 570 600 630 660 690 720 780 810 840 870 900 930"/><path class="O" d="M0 60H60 90 120 150 180 210 240 300 330 360 390 420 450 480 540 570 600 630 660 690 720 780 810 840 870 900 930"/>
<g class="m"><path d="M720 0h0"/><text x="725">=176</text></g>
<g class="n"><text>129</text><text x="240">130</text><text x="480">131</text><text x="720">132</text></g>
<g class="s"><text x="238">350</text><text x="478">350</text><text x="718">350</text><text x="958">350</text></g>
<g class="t"><text x="238">188494</text><text x="478">189894</text><text x="718">191294</text><text x="958">192694</text></g>
<g class="p"><text x="238">45.40%</text><text x="478">45.40%</text><text x="718">45.40%</text><text x="958">45.40%</text></g></g>

<g id="s33" transform="translate(32.5,4858.5)"><use href="#st"/>
<path class="Y" d="M0 30H60 90 120 150 180 210 660 690 720 780 810 840 870 900 930"/><path class="Sy" d="M240 30H300 330 360 390 420 450 480 540 570 600 630"/><path class="B" d="M660 45H690 720 780 810 840 870 900 930"/><path class="Sb" d="M240 45H300 330 360 390 420 450 480 540 570 600 630"/><path class="O" d="M0 60H60 90 120 150 180 210 660 690 720 780 810 840 870 900 930"/><path class="So" d="M240 60H300 330 360 390 420 450 480 540 570 600 630"/>
<g class="m"><path d="M0 0H240 480 960"/><text x="5">=174</text><text x="245">=177</text><text x="485">=176</text><text x="965">=177</text></g>
<g class="n"><text>133</text><text x="240">134</text><text x="480">135</text><text x="720">136</text></g>
<g class="s"><text x="238">350</text><text x="478">525</text><text x="718">525</text><text x="958">525</text></g>
<g class="t"><text x="238">194094</text><text x="478">197994</text><text x="718">202194</text><text x="958">206394</text></g>
<g class="p"><text x="238">45.40%</text><text x="478">36.67%</text><text x="718">49.17%</text><text x="958">36.68%</text></g>
<path class="Og" d="M240 30.5H630"/><path class="Or" d="M300 30.5H311"/><path class="Ob" d="M311 30.5H960"/></g>

<g id="s34" transform="translate(32.5,4999.5)"><use href="#st"/>
<path class="Y" d="M0 30H60 90 120 150 180 210 240 300 330 360 390 420 450 480 540 570 600 630 660 690 720 780 810 840 870 900 930"/><path class="B" d="M0 45H60 90 120 150 180 210 240 300 330 360 390 420 450 480 540 570 600 630 660 690 720 780 810 840 870 900 930"/><path class="O" d="M0 60H60 90 120 150 180 210 240 300 330 360 390 420 450 480 540 570 600 630 660 690 720 780 810 840 870 900 930"/>
<g class="m"><path d="M240 0H480 960"/><text x="245">=176</text><text x="485">=175</text><text x="965">=176</text></g>
<g class="n"><text>137</text><text x="240">138</text><text x="480">139</text><text x="720">140</text></g>
<g class="s"><text x="238">525</text><text x="478">525</text><text x="718">525</text><text x="958">525</text></g>
<g class="t"><text x="238">210594</text><text x="478">214794</text><text x="718">218994</text><text x="958">223194</text></g>
<g class="p"><text x="238">24.16%</text><text x="478">11.67%</text><text x="718">0.00%</text><text x="958">0.00%</text></g>
<path class="Ob" d="M0 30.5H960"/></g>

<g id="s35" transform="translate(32.5,5140.5)"><use href="#st"/>
<path class="G" d="M720 0H780 810 840 870 900 930"/><path class="R" d="M240 15H300 330 600 630 660 690"/><path class="Sr" d="M360 15H390 420 450 480 540 570"/><path class="Y" d="M0 30H60 90 120 150 180 210 720 780 810 840 870 900 930"/><path class="B" d="M0 45H60 90 120 150 180 210 240 300 330 600 630 660 690"/><path class="Sb" d="M360 45H390 420 450 480 540 570"/><path class="O" d="M0 60H60 90 120 150 180 210"/>
<g class="m"><path d="M480 0h0"/><text x="485">=176</text></g>
<g class="n"><text>141</text><text x="240">142</text><text x="480">143</text><text x="720">144</text></g>
<g class="s"><text x="238">525</text><text x="478">350</text><text x="718">350</text><text x="958">350</text></g>
<g class="t"><text x="238">227394</text><text x="478">228994</text><text x="718">230394</text><text x="958">231794</text></g>
<g class="p"><text x="238">0.00%</text><text x="478">0.00%</text><text x="718">25.00%</text><text x="958">25.00%</text></g>
<path class="Ob" d="M0 30.5H222"/><path class="Or" d="M222 30.5H240"/><path class="Og" d="M360 30.5H570"/></g>

<g id="s36" transform="translate(32.5,5281.5)"><use href="#st"/>
<path class="G" d="M0 0H60 90 120 150 180 210"/><path class="Sg" d="M720 0H780 810 840 870 900 930"/><path class="R" d="M240 15H300 330 360 390 420 450 480 540 570 600 630 660 690"/><path class="Y" d="M0 30H60 90 120 150 180 210"/><path class="Sy" d="M720 30H780 810 840 870 900 930"/><path class="B" d="M0 45H60 90 120 150 180 210 240 300 330 360 390 420 450 480 540 570 600 630 660 690"/>
<g class="m"><path d="M0 0H240"/><text x="5">=176</text><text x="245">=176</text></g>
<g class="n"><text>145</text><text x="240">146</text><text x="480">147</text><text x="720">148</text></g>
<g class="s"><text x="238">525</text><text x="478">350</text><text x="718">350</text><text x="958">350</text></g>
<g class="t"><text x="238">233894</text><text x="478">235294</text><text x="718">236694</text><text x="958">238094</text></g>
<g class="p"><text x="238">25.00%</text><text x="478">25.00%</text><text x="718">25.00%</text><text x="958">25.00%</text></g>
<path class="Og" d="M720 30.5H960"/><path class="Yw" d="M720 -5.5H960M720 66.5H960"/></g>

<g id="s37" transform="translate(32.5,5422.5)"><use href="#st"/>
<path class="Sg" d="M0 0H60 90 120 150 180 210"/><path class="G" d="M720 0H780 810 840 870 900 930"/><path class="R" d="M240 15H300 330 360 390 420 450 480 540 570 600 630 660 690"/><path class="Sy" d="M0 30H60 90 120 150 180 210"/><path class="Y" d="M720 30H780 810 840 870 900 930"/><path class="Sb" d="M0 45H60 90 120 150 180 210"/><path class="B" d="M240 45H300 330 360 390 420 450 480 540 570 600 630 660 690"/>
<g class="m"><path d="M0 0H240 480 720"/><text x="5">=176</text><text x="245">=175</text><text x="485">=177</text><text x="725">=175</text></g>
<g class="n"><text>149</text><text x="240">150</text><text x="480">151</text><text x="720">152</text></g>
<g class="s"><text x="238">525</text><text x="478">350</text><text x="718">350</text><text x="958">350</text></g>
<g class="t"><text x="238">240194</text><text x="478">241594</text><text x="718">242994</text><text x="958">244394</text></g>
<g class="p"><text x="238">50.00%</text><text x="478">50.00%</text><text x="718">50.00%</text><text x="958">50.00%</text></g>
<path class="Og" d="M0 30.5H210"/><path class="Yw" d="M0 -5.5H210M0 66.5H210"/></g>

<g id="s38" transform="translate(32.5,5563.5)"><use href="#st"/><use href="#v"/>
<g class="m"><path d="M0 0H480 720"/><text x="5">=176</text><text x="485">=176</text><text x="725">=176</text></g>
<g class="n"><text>153</text><text x="240">154</text><text x="480">155</text><text x="720">156</text></g>
<g class="s"><text x="238">525</text><text x="478">350</text><text x="718">350</text><text x="958">350</text></g>
<g class="t"><text x="238">247094</text><text x="478">249894</text><text x="718">252694</text><text x="958">255494</text></g>
<g class="p"><text x="238">47.55%</text><text x="478">35.06%</text><text x="718">22.55%</text><text x="958">10.05%</text></g>
<path class="Or" d="M180 30.5H192"/><path class="Ob" d="M192 30.5H960"/></g>

<g id="s39" transform="translate(32.5,5704.5)"><use href="#st"/>
<path class="G" d="M0 0H60 90 120 150 180 210 720 780 810 840 870 900 930"/><path class="Sr" d="M240 15H300 330 360 390 420 450 480 540 570 600 630 660 690"/><path class="Y" d="M0 30H60 90 120 150 180 210 720 780 810 840 870 900 930"/><path class="B" d="M0 45H60 90 120 150 180 210"/><path class="Sb" d="M240 45H300 330 360 390 420 450 480 540 570 600 630 660 690"/>
<g class="m"><path d="M0 0H240 480"/><text x="5">=176</text><text x="245">=175</text><text x="485">=176</text></g>
<g class="n"><text>157</text><text x="240">158</text><text x="480">159</text><text x="720">160</text></g>
<g class="s"><text x="238">525</text><text x="478">350</text><text x="718">350</text><text x="958">350</text></g>
<g class="t"><text x="238">259694</text><text x="478">262494</text><text x="718">265294</text><text x="958">268094</text></g>
<g class="p"><text x="238">0.00%</text><text x="478">0.00%</text><text x="718">23.44%</text><text x="958">10.94%</text></g>
<path class="Og" d="M240 30.5H690"/><path class="Ob" d="M0 30.5H960"/></g>

<g id="s40" transform="translate(32.5,5845.5)"><use href="#st"/><use href="#v"/>
<g class="m"><path d="M0 0H240 480 720"/><text x="5">=176</text><text x="245">=176</text><text x="485">=176</text><text x="725">=175</text></g>
<g class="n"><text>161</text><text x="240">162</text><text x="480">163</text><text x="720">164</text></g>
<g class="s"><text x="238">525</text><text x="478">350</text><text x="718">350</text><text x="958">350</text></g>
<g class="t"><text x="238">272294</text><text x="478">273694</text><text x="718">275094</text><text x="958">276494</text></g>
<g class="p"><text x="238">0.00%</text><text x="478">0.00%</text><text x="718">0.00%</text><text x="958">0.00%</text></g>
<path class="Ob" d="M0 30.5H192"/><path class="Or" d="M192 30.5H210"/></g>

<g id="s41" transform="translate(32.5,5986.5)"><use href="#st"/><use href="#v"/>
<g class="m"><path d="M0 0H240 480 720"/><text x="5">=176</text><text x="245">=175</text><text x="485">=176</text><text x="725">=176</text></g>
<g class="n"><text>165</text><text x="240">166</text><text x="480">167</text><text x="720">168</text></g>
<g class="s"><text x="238">525</text><text x="478">350</text><text x="718">350</text><text x="958">350</text></g>
<g class="t"><text x="238">278594</text><text x="478">279994</text><text x="718">281394</text><text x="958">282794</text></g>
<g class="p"><text x="238">0.00%</text><text x="478">0.00%</text><text x="718">0.00%</text><text x="958">0.00%</text></g></g>

<g id="s42" transform="translate(32.5,6127.5)"><use href="#st"/><use href="#v"/>
<g class="m"><path d="M480 0H720 960"/><text x="485">=174</text><text x="725">=178</text><text x="965">=175</text></g>
<g class="n"><text>169</text><text x="240">170</text><text x="480">171</text><text x="720">172</text></g>
<g class="s"><text x="238">525</text><text x="478">350</text><text x="718">350</text><text x="958">350</text></g>
<g class="t"><text x="238">284894</text><text x="478">286294</text><text x="718">287694</text><text x="958">289094</text></g>
<g class="p"><text x="238">0.00%</text><text x="478">0.00%</text><text x="718">0.00%</text><text x="958">0.00%</text></g></g>

<g id="s43" transform="translate(32.5,6268.5)"><use href="#st"/>
<path class="Lr" d="M240 15H960"/><path class="Lb" d="M240 45H960"/>
<path class="G" d="M0 0H60 90 120 150 180 210"/><path class="R" d="M240 15h0"/><path class="Y" d="M0 30H60 90 120 150 180 210"/><path class="B" d="M0 45H60 90 120 150 180 210 240"/>
<g class="n"><text>173</text><text x="240">174</text><text x="480">175</text><text x="720">176</text></g>
<g class="s"><text x="238">525</text><text x="478">146</text><text x="718">96</text><text x="958">96</text></g>
<g class="t"><text x="238">291194</text><text x="478">291778</text><text x="718">292162</text><text x="958">292546</text></g>
<g class="p"><text x="238">0.00%</text><text x="478">0.00%</text><text x="718">0.00%</text><text x="958">0.00%</text></g></g>

<g id="s44" transform="translate(32.5,6409.5)"><use href="#st3"/>
<path class="Lr" d="M0 15H718"/><path class="Lb" d="M0 45H718"/>
<g class="n"><text>177</text><text x="240">178</text><text x="480">179</text></g>
<g class="s"><text x="238">96</text><text x="478">96</text><text x="718">96</text></g>
<g class="t"><text x="238">292930</text><text x="478">293314</text><text x="718">293698</text></g>
<g class="p"><text x="238">0.00%</text><text x="478">0.00%</text><text x="718">0.00%</text></g></g>
</g>
</svg>
